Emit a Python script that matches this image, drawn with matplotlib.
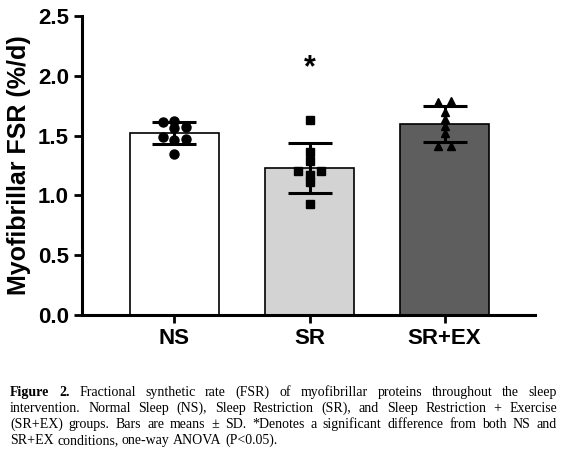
import numpy as np
import matplotlib.pyplot as plt

groups = ['NS', 'SR', 'SR+EX']
means = [1.52, 1.23, 1.60]
sds = [0.09, 0.21, 0.15]
ns_vals = [1.61, 1.625, 1.575, 1.565, 1.49, 1.46, 1.47, 1.35]
sr_vals = [1.633, 1.36, 1.29, 1.20, 1.20, 1.167, 1.11, 0.925]
srex_vals = [1.783, 1.79, 1.70, 1.64, 1.58, 1.52, 1.417, 1.417]
yticks = [0.0, 0.5, 1.0, 1.5, 2.0, 2.5]

caption = [
    [('Figure', True), ('2.', True), 'Fractional', 'synthetic', 'rate', '(FSR)', 'of',
     'myofibrillar', 'proteins', 'throughout', 'the', 'sleep'],
    ['intervention.', 'Normal', 'Sleep', '(NS),', 'Sleep', 'Restriction', '(SR),', 'and',
     'Sleep', 'Restriction', '+', 'Exercise'],
    ['(SR+EX)', 'groups.', 'Bars', 'are', 'means', '±', 'SD.', '*Denotes', 'a', 'significant',
     'difference', 'from', 'both', 'NS', 'and'],
    ['SR+EX', 'conditions,', 'one-way', 'ANOVA', '(P<0.05).'],
]

# layout
colors = ['white', '#d3d3d3', '#5e5e5e']
markers = ['o', 's', '^']
offsets = [[-1, 0, 1, 0, -1, 0, 1, 0],
           [0, 0, 0, -1, 1, 0, 0, 0],
           [-1, 1, 0, 0, 0, 0, -1, 1]]
spread = [0.087, 0.088, 0.045]

plt.rcParams['font.family'] = ['Liberation Sans', 'DejaVu Sans']

fig = plt.figure(figsize=(5.67, 4.58), dpi=100)
ax = fig.add_axes([82/567, 1-315/458, (535-82)/567, (315-16)/458])

x = np.arange(len(groups))
ax.bar(x, means, width=0.66, color=colors, edgecolor='black', linewidth=1.2, zorder=1)
ax.errorbar(x, means, yerr=sds, fmt='none', ecolor='black', elinewidth=2.2,
            capsize=16, capthick=2.2, zorder=2)

for i, vals in enumerate([ns_vals, sr_vals, srex_vals]):
    xs = x[i] + np.array(offsets[i]) * spread[i]
    ms = 6.5 if markers[i] == 'o' else 5.5
    ax.plot(xs, vals, linestyle='none', marker=markers[i], color='black', ms=ms, zorder=3)

ax.text(1, 2.06, '*', ha='center', va='center', fontsize=22, fontweight='bold')

ax.set_xlim(-0.685, 2.67)
ax.set_ylim(0, 2.5)
ax.set_yticks(yticks)
ax.set_yticklabels(['%.1f' % t for t in yticks])
ax.set_xticks(x)
ax.set_xticklabels(groups)
for s in ['top', 'right']:
    ax.spines[s].set_visible(False)
for s in ['left', 'bottom']:
    ax.spines[s].set_linewidth(2.2)
ax.tick_params(width=2, length=6, labelsize=16)
for lab in ax.get_xticklabels() + ax.get_yticklabels():
    lab.set_fontweight('bold')
ax.set_ylabel('Myofibrillar FSR (%/d)', fontsize=18, fontweight='bold', labelpad=5)

# justified caption
fig.canvas.draw()
renderer = fig.canvas.get_renderer()
W = fig.bbox.width
H = fig.bbox.height
x0, x1 = 10, 557
size = 10
for n, line in enumerate(caption):
    y = 1 - (396 + 16 * n) / H
    texts = []
    for w in line:
        bold = False
        if isinstance(w, tuple):
            w, bold = w
        t = fig.text(0, y, w, fontsize=size, family=['Liberation Serif', 'DejaVu Serif'],
                     fontweight='bold' if bold else 'normal', va='baseline')
        texts.append(t)
    widths = [t.get_window_extent(renderer).width for t in texts]
    if n < len(caption) - 1:
        gap = (x1 - x0 - sum(widths)) / (len(texts) - 1)
    else:
        gap = size * 0.25 * 100 / 72
    pos = x0
    for t, w in zip(texts, widths):
        t.set_x(pos / W)
        pos += w + gap

fig.savefig('out.png', dpi=100)
